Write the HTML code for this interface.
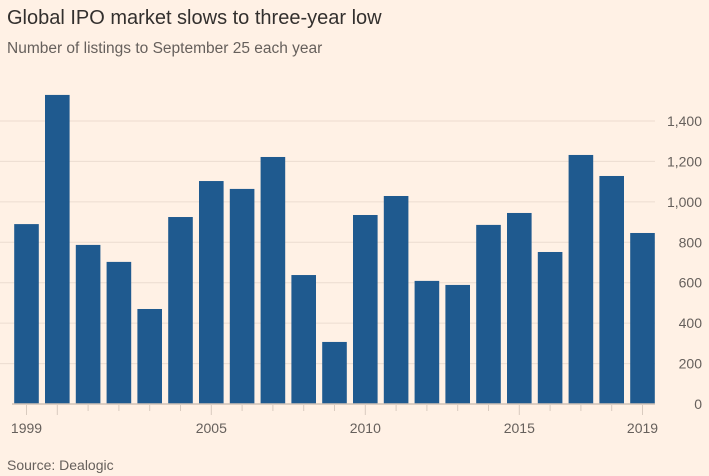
<!DOCTYPE html>
<html><head><meta charset="utf-8"><style>
body{margin:0;background:#fff1e5;font-family:"Liberation Sans",sans-serif;}
#c{position:relative;width:709px;height:476px;overflow:hidden;background:#fff1e5}
</style></head><body>
<div id="c">
<svg id="s" width="709" height="476">
<text x="7" y="24" font-size="20" fill="#33302e">Global IPO market slows to three-year low</text>
<text x="7" y="53" font-size="15.5" fill="#66605c">Number of listings to September 25 each year</text>
<text x="7" y="470" font-size="14" fill="#66605c">Source: Dealogic</text>
<g id="grid"></g><g id="bars"></g><g id="xaxis"></g><g id="yaxis"></g>
</svg></div>
<script>
const years=[1999,2000,2001,2002,2003,2004,2005,2006,2007,2008,2009,2010,2011,2012,2013,2014,2015,2016,2017,2018,2019];
const listings=[890,1529,787,703,470,925,1103,1064,1222,638,307,935,1029,609,589,886,945,752,1232,1128,846];
const yTicks=[0,200,400,600,800,1000,1200,1400];
const yTickLabels=["0","200","400","600","800","1,000","1,200","1,400"];
const xLabelYears=[1999,2005,2010,2015,2019];
const NS="http://www.w3.org/2000/svg";
const y=v=>404-v*(404-121)/1400;
const x=yr=>26.5+(yr-1999)*30.8;
function mk(t,a,p){const e=document.createElementNS(NS,t);for(const k in a)e.setAttribute(k,a[k]);p.appendChild(e);return e;}
const g=document.getElementById('grid'),b=document.getElementById('bars'),xa=document.getElementById('xaxis'),ya=document.getElementById('yaxis');
yTicks.forEach((v,i)=>{
 if(v>0){const l=mk('line',{x1:0,x2:655,y1:y(v),y2:y(v),stroke:'#ecdcd0','stroke-width':1},g);
 
 }
 const t=mk('text',{x:702,y:y(v)+5,'text-anchor':'end','font-size':14,fill:'#66605c'},ya);
 t.textContent=yTickLabels[i];
 
 
});
years.forEach((yr,i)=>{
 const r=mk('rect',{x:x(yr)-12.3,y:y(listings[i]),width:24.6,height:404-y(listings[i]),fill:'#1f5a8f'},b);
 
 
 const tk=mk('line',{x1:x(yr),x2:x(yr),y1:405,y2:(yr%5==0||yr==1999||yr==2019)?415:411,stroke:'#d9cbbf'},xa);
 
 
});
const base=mk('line',{x1:12,x2:655,y1:404,y2:404,stroke:'#d0c2b7','stroke-width':1.5},xa);


xLabelYears.forEach(yr=>{
 const t=mk('text',{x:x(yr),y:433,'text-anchor':'middle','font-size':14,fill:'#66605c'},xa);
 t.textContent=yr;
 
 
});
</script></body></html>
